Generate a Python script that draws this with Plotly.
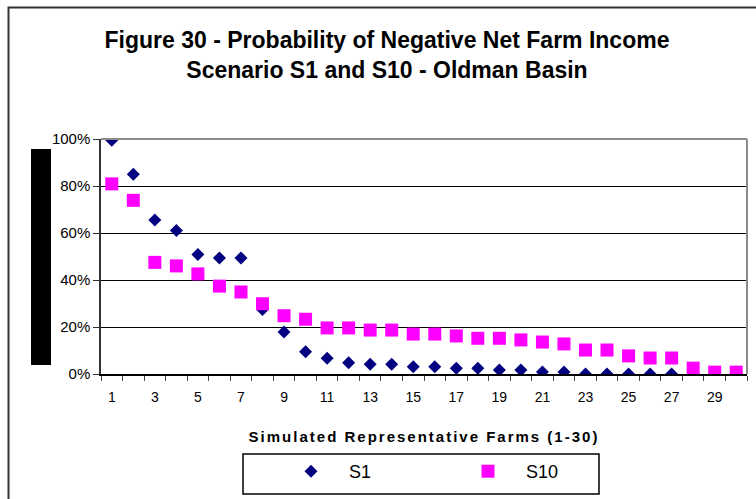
import plotly.graph_objects as go

# Representative farms and probability of negative net farm income
farms = [1, 2, 3, 4, 5, 6, 7, 8, 9, 10, 11, 12, 13, 14, 15,
         16, 17, 18, 19, 20, 21, 22, 23, 24, 25, 26, 27, 28, 29, 30]
s1 = [0.995, 0.850, 0.655, 0.611, 0.509, 0.494, 0.494, 0.275, 0.179, 0.095,
      0.067, 0.048, 0.041, 0.041, 0.031, 0.031, 0.024, 0.024, 0.017, 0.017,
      0.009, 0.008, 0.0, 0.0, 0.0, 0.0, 0.0, 0.0, 0.0, 0.0]
s10 = [0.809, 0.739, 0.475, 0.460, 0.426, 0.374, 0.349, 0.299, 0.248, 0.233,
       0.196, 0.196, 0.187, 0.187, 0.170, 0.170, 0.162, 0.152, 0.152, 0.145,
       0.136, 0.128, 0.102, 0.102, 0.077, 0.068, 0.068, 0.025, 0.008, 0.008]
x_labels = [1, 3, 5, 7, 9, 11, 13, 15, 17, 19, 21, 23, 25, 27, 29]
y_ticks = [0, 0.2, 0.4, 0.6, 0.8, 1.0]

W, H = 756, 499
L, R, T, B = 101, 9, 139, 125
pw, ph = W - L - R, H - T - B


def px(xp):
    return (xp - L) / pw


def py(yp):
    return (H - B - yp) / ph


FONT = "Liberation Sans, Arial, sans-serif"

fig = go.Figure()
fig.add_trace(go.Scatter(
    x=farms, y=s1, mode="markers", name="S1",
    marker=dict(symbol="diamond", size=10, color="#000080"),
))
fig.add_trace(go.Scatter(
    x=farms, y=s10, mode="markers", name="S10",
    marker=dict(symbol="square", size=13, color="#FF00FF"),
))

fig.update_layout(
    width=W, height=H,
    margin=dict(l=L, r=R, t=T, b=B, autoexpand=False),
    paper_bgcolor="white", plot_bgcolor="white",
    font=dict(family=FONT, color="black"),
    title=dict(
        text="Figure 30 - Probability of Negative Net Farm Income<br>"
             "Scenario S1 and S10 - Oldman Basin",
        x=387 / W, xanchor="center", y=1 - 48 / H, yanchor="middle",
        font=dict(size=23, family=FONT, color="black", weight="bold"),
    ),
    showlegend=True,
    legend=dict(
        orientation="h", xref="container", yref="container",
        x=273 / W, xanchor="left", y=1 - 453 / H, yanchor="top",
        borderwidth=0, bgcolor="rgba(0,0,0,0)",
        font=dict(size=18, family=FONT, color="black"),
        entrywidth=96, entrywidthmode="pixels", itemwidth=66,
    ),
    xaxis=dict(
        range=[0.5, 30.5], tickmode="array", tickvals=x_labels,
        ticktext=[str(v) for v in x_labels], ticks="",
        showgrid=False, zeroline=False, automargin=False,
        showline=True, linecolor="black", linewidth=1.5,
        tickfont=dict(size=14, family=FONT, color="black"),
        ticklabelstandoff=9,
        minor=dict(tickmode="array", tickvals=[v - 0.5 for v in farms] + [30.5],
                   ticks="outside", ticklen=5, tickcolor="#444", tickwidth=1,
                   showgrid=False),
        title=dict(
            text='<span style="letter-spacing:2px">Simulated Representative Farms (1-30)</span>',
            font=dict(size=15, family=FONT, color="black", weight="bold"),
            standoff=28,
        ),
        fixedrange=True,
    ),
    yaxis=dict(
        range=[0, 1], tickmode="array", tickvals=y_ticks, tickformat=".0%",
        ticks="outside", ticklen=6, tickcolor="#333", automargin=False,
        showgrid=True, gridcolor="black", gridwidth=1,
        zeroline=False, showline=True, linecolor="#333", linewidth=1.5,
        tickfont=dict(size=15, family=FONT, color="black"),
        fixedrange=True,
    ),
    shapes=[
        # plot-area top and right edges
        dict(type="line", xref="paper", yref="paper", x0=0, x1=1, y0=1, y1=1,
             line=dict(color="#8c8c8c", width=2)),
        dict(type="line", xref="paper", yref="paper", x0=1, x1=1, y0=0, y1=1,
             line=dict(color="#8c8c8c", width=2)),
        # filled block left of the value axis
        dict(type="rect", xref="paper", yref="paper",
             x0=px(31), x1=px(51), y0=py(365), y1=py(149),
             fillcolor="black", line=dict(width=0), layer="above"),
        # legend frame
        dict(type="rect", xref="paper", yref="paper",
             x0=px(243), x1=px(599), y0=py(494), y1=py(454),
             fillcolor="rgba(0,0,0,0)", line=dict(color="black", width=1.5),
             layer="above"),
        # outer chart frame
        dict(type="rect", xref="paper", yref="paper",
             x0=px(8.5), x1=px(770), y0=py(520), y1=py(7.5),
             fillcolor="rgba(0,0,0,0)", line=dict(color="#333", width=2),
             layer="above"),
    ],
)

fig.write_html("out.html", config={"displayModeBar": False})
